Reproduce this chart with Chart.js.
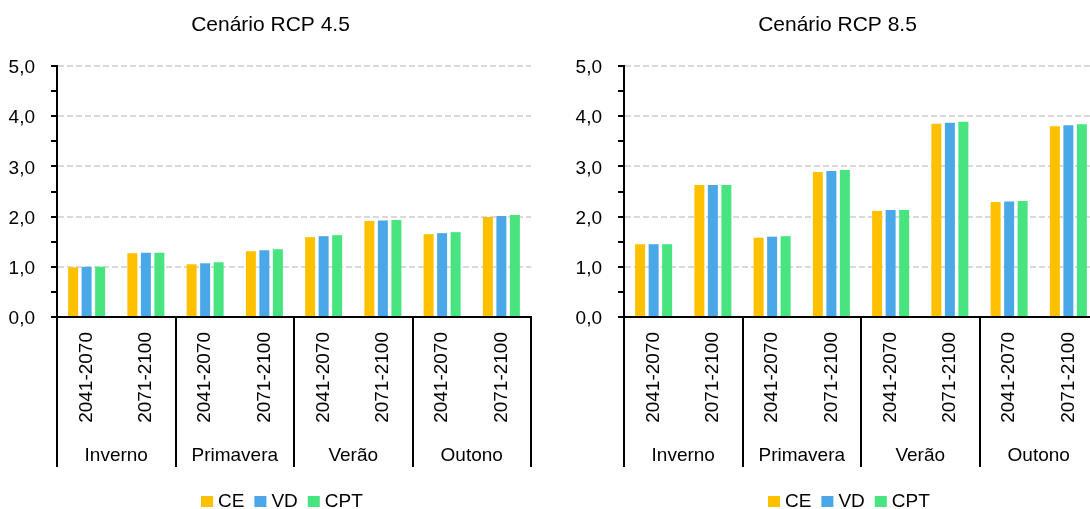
<!DOCTYPE html>
<html lang="pt">
<head>
<meta charset="utf-8">
<title>Cenários RCP 4.5 e 8.5</title>
<script src="https://cdn.jsdelivr.net/npm/chart.js@4/dist/chart.umd.min.js"></script>
<style>
    html, body {
        margin: 0;
        padding: 0;
        background: #fff;
        overflow: hidden;
    }
    .wrap {
        position: relative;
        width: 1090px;
        height: 509px;
        overflow: hidden;
    }
    canvas {
        position: absolute;
        top: 0;
    }
    #chartLeft { left: 0; }
    #chartRight { left: 567px; }
</style>
</head>
<body>
<div class="wrap">
    <canvas id="chartLeft" width="566" height="509"></canvas>
    <canvas id="chartRight" width="566" height="509"></canvas>
</div>
<script>
// categorias
const seasons = ['Inverno', 'Primavera', 'Verão', 'Outono'];
const periods = ['2041-2070', '2071-2100'];
const seriesNames = ['CE', 'VD', 'CPT'];
const seriesColors = ['#FFC000', '#4AA8E8', '#47E480'];

// Cenário RCP 4.5 (Inverno 41-70, Inverno 71-00, Primavera ..., Verão ..., Outono ...)
const rcp45CE  = [0.99, 1.27, 1.05, 1.31, 1.59, 1.91, 1.65, 1.99];
const rcp45VD  = [1.00, 1.28, 1.07, 1.33, 1.61, 1.92, 1.67, 2.01];
const rcp45CPT = [1.00, 1.28, 1.09, 1.35, 1.63, 1.93, 1.69, 2.03];

// Cenário RCP 8.5
const rcp85CE  = [1.45, 2.63, 1.58, 2.89, 2.11, 3.85, 2.29, 3.80];
const rcp85VD  = [1.45, 2.63, 1.60, 2.91, 2.13, 3.87, 2.30, 3.82];
const rcp85CPT = [1.45, 2.63, 1.61, 2.93, 2.13, 3.89, 2.31, 3.84];

// eixo y
const yMin = 0;
const yMax = 5;
const yStep = 0.5;

const FONT = "'Liberation Sans', Arial, sans-serif";
const FS = 19;
Chart.defaults.font.family = FONT;
Chart.defaults.color = '#000';

const xLabels = [];
seasons.forEach(() => periods.forEach(p => xLabels.push(p)));

// separadores, estações, título e legenda
const decorPlugin = {
    id: 'decor',
    afterDraw(chart, args, opts) {
        const { ctx, chartArea: { left, right, bottom } } = chart;
        const groupW = (right - left) / seasons.length;
        ctx.save();

        ctx.strokeStyle = '#000';
        ctx.lineWidth = 2;
        for (let i = 0; i <= seasons.length; i++) {
            const px = Math.round(left + i * groupW);
            ctx.beginPath();
            ctx.moveTo(px, bottom);
            ctx.lineTo(px, 467);
            ctx.stroke();
        }

        ctx.fillStyle = '#000';
        ctx.font = FS + 'px ' + FONT;
        ctx.textAlign = 'center';
        ctx.textBaseline = 'alphabetic';
        seasons.forEach((s, i) => {
            ctx.fillText(s, left + (i + 0.5) * groupW, 461);
        });

        // título
        ctx.font = '21px ' + FONT;
        ctx.fillText(opts.title, 270.5, 31);

        // legenda
        ctx.font = FS + 'px ' + FONT;
        ctx.textAlign = 'left';
        let lx = 201;
        seriesNames.forEach((name, i) => {
            ctx.fillStyle = seriesColors[i];
            ctx.fillRect(lx, 496, 12, 11);
            ctx.fillStyle = '#000';
            ctx.fillText(name, lx + 17, 507);
            lx += 17 + ctx.measureText(name).width + 10;
        });

        ctx.restore();
    }
};

function makeChart(id, title, ce, vd, cpt) {
    const values = [ce, vd, cpt];
    return new Chart(document.getElementById(id), {
        type: 'bar',
        data: {
            labels: xLabels,
            datasets: seriesNames.map((name, i) => ({
                label: name,
                data: values[i],
                backgroundColor: seriesColors[i],
                borderWidth: 0,
                categoryPercentage: 0.684,
                barPercentage: 0.74
            }))
        },
        options: {
            responsive: false,
            animation: false,
            layout: {
                padding: { top: 66, right: 35, bottom: 0, left: 0 }
            },
            plugins: {
                legend: { display: false },
                title: { display: false },
                tooltip: { enabled: false },
                decor: { title: title }
            },
            scales: {
                x: {
                    offset: true,
                    grid: { display: false, drawTicks: false },
                    border: { display: true, color: '#000', width: 2 },
                    ticks: {
                        autoSkip: false,
                        minRotation: 90,
                        maxRotation: 90,
                        padding: 15,
                        color: '#000',
                        font: { size: FS }
                    },
                    afterFit: s => { s.height = 192; }
                },
                y: {
                    min: yMin,
                    max: yMax,
                    grid: {
                        color: c => (c.tick && c.tick.value > 0 && c.tick.value % 1 === 0) ? '#D9D9D9' : 'rgba(0,0,0,0)',
                        lineWidth: 2,
                        tickColor: '#000',
                        tickWidth: 2,
                        tickLength: 6
                    },
                    border: { display: true, color: '#000', width: 2, dash: [6, 3] },
                    ticks: {
                        stepSize: yStep,
                        autoSkip: false,
                        padding: 16,
                        labelOffset: 2,
                        color: '#000',
                        font: { size: FS },
                        callback: v => (v % 1 === 0) ? v.toFixed(1).replace('.', ',') : ''
                    },
                    afterFit: s => { s.width = 57; }
                }
            }
        },
        plugins: [decorPlugin]
    });
}

makeChart('chartLeft', 'Cenário RCP 4.5', rcp45CE, rcp45VD, rcp45CPT);
makeChart('chartRight', 'Cenário RCP 8.5', rcp85CE, rcp85VD, rcp85CPT);
</script>
</body>
</html>
